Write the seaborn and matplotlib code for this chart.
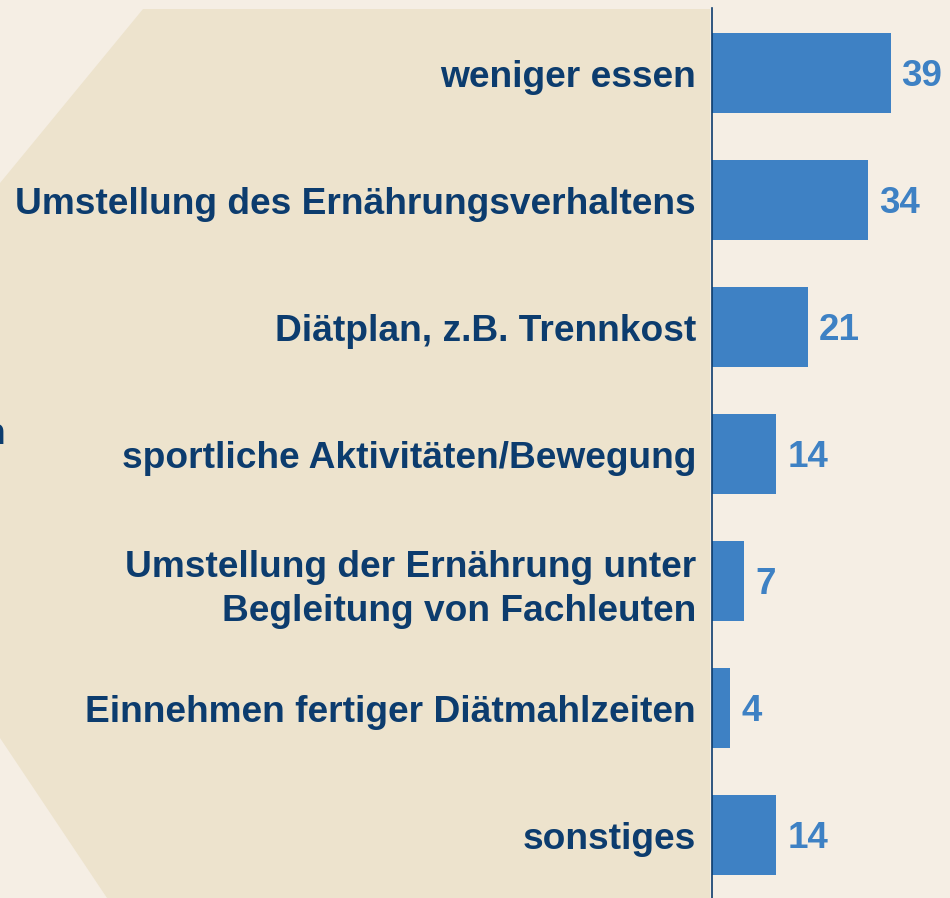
import matplotlib
matplotlib.use("Agg")
import matplotlib.pyplot as plt
from matplotlib.patches import Polygon
import seaborn as sns
import pandas as pd

categories = [
    "weniger essen",
    "Umstellung des Ernährungsverhaltens",
    "Diätplan, z.B. Trennkost",
    "sportliche Aktivitäten/Bewegung",
    "Umstellung der Ernährung unter\nBegleitung von Fachleuten",
    "Einnehmen fertiger Diätmahlzeiten",
    "sonstiges",
]
values = [39, 34, 21, 14, 7, 4, 14]

BG = "#f5eee4"
PANEL = "#ede3cd"
NAVY = "#0c3c6e"
BLUE = "#3e81c4"

sns.set_theme(style="white")
plt.rcParams["font.family"] = ["Liberation Sans", "DejaVu Sans"]

W, H = 950, 898
fig = plt.figure(figsize=(W / 100, H / 100), dpi=100, facecolor=BG)

# decorative panel behind the labels
pts = [(143, 9), (710, 9), (710, 898), (107, 898), (0, 738), (0, 183)]
poly = Polygon([(x / W, 1 - y / H) for x, y in pts], closed=True,
               transform=fig.transFigure, facecolor=PANEL, edgecolor="none",
               zorder=-10)
fig.patches.append(poly)

ax = fig.add_axes([712 / W, 0, 1 - 712 / W, 1 - 8 / H])
ax.patch.set_alpha(0)

df = pd.DataFrame({"category": categories, "value": values})
sns.barplot(data=df, x="value", y="category", color=BLUE, saturation=1,
            width=0.63, ax=ax, linewidth=0, edgecolor="none")

ax.set_xlim(0, 52.0)
ax.set_ylim(6.496, -0.512)
ax.set_xlabel("")
ax.set_ylabel("")
ax.xaxis.set_visible(False)
for s in ["top", "right", "bottom"]:
    ax.spines[s].set_visible(False)
ax.spines["left"].set_color(NAVY)
ax.spines["left"].set_linewidth(1.2)
ax.tick_params(axis="y", length=0, pad=11.5)
for lbl in ax.get_yticklabels():
    lbl.set_fontsize(26.7)
    lbl.set_fontweight("bold")
    lbl.set_color(NAVY)
    lbl.set_horizontalalignment("right")
    lbl.set_multialignment("right")
    if "\n" in lbl.get_text():
        lbl.set_linespacing(1.35)

texts = ax.bar_label(ax.containers[0], labels=[str(v) for v in values],
                     padding=8, fontsize=26.5, fontweight="bold", color=BLUE)
for t in texts:
    t.xyann = (8, -2.5)

# partially visible text at the left edge
fig.text(5 / W, 1 - 434 / H, "n", ha="right", va="center", fontsize=26.7,
         fontweight="bold", color=NAVY)

fig.savefig("out.png", dpi=100, facecolor=BG)
